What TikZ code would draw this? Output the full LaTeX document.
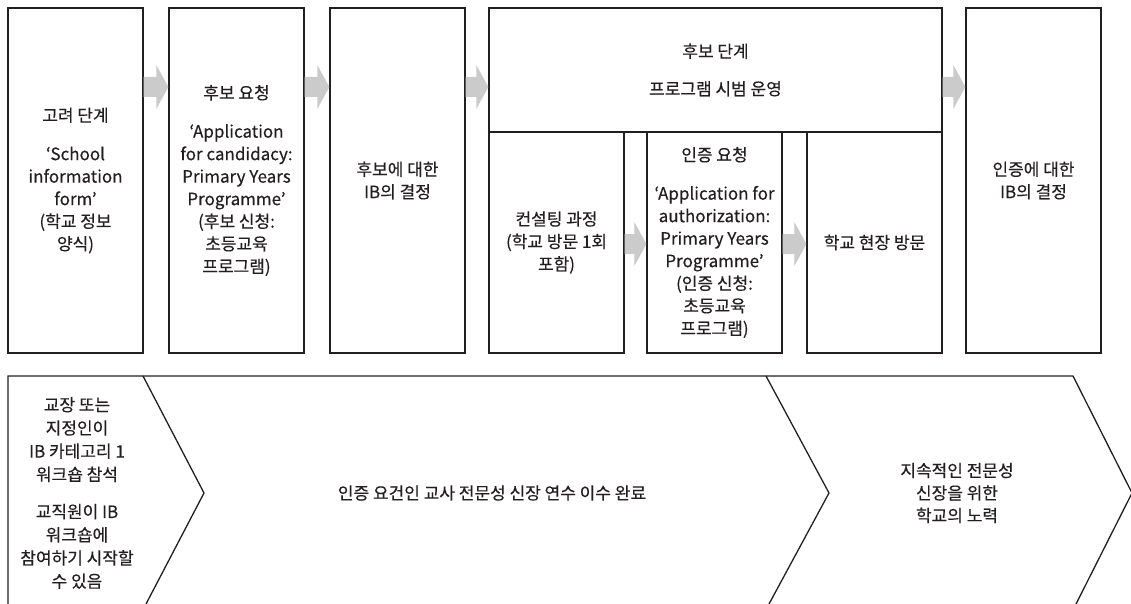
\documentclass[tikz,border=0pt]{standalone}
\usepackage{fontspec}
\setmainfont{Noto Sans CJK KR}[FakeBold=0.35]
\usetikzlibrary{calc}
\definecolor{ink}{HTML}{231F20}
\definecolor{arrowgray}{HTML}{CBCBCB}
\tikzset{
  stagebox/.style={draw=ink, line width=1.3pt, inner sep=0pt, minimum width=135pt,
    align=center, text=ink, font=\fontsize{17}{22.5}\selectfont},
  plaintext/.style={inner sep=0pt, align=center, text=ink, font=\fontsize{17}{22.5}\selectfont},
  chevline/.style={draw=ink, line width=1.3pt, line join=miter},
  blockarrow/.style={fill=arrowgray, draw=none}
}
\newcommand{\grayarrow}[3]{%
  \fill[blockarrow] ($(#1.east |- 0,#3)+(0,-10)$) -- ($(#2.west |- 0,#3)+(-12,-10)$)
    -- ($(#2.west |- 0,#3)+(-12,-22)$) -- (#2.west |- 0,#3)
    -- ($(#2.west |- 0,#3)+(-12,22)$) -- ($(#2.west |- 0,#3)+(-12,10)$)
    -- ($(#1.east |- 0,#3)+(0,10)$) -- cycle;}
\begin{document}
\begin{tikzpicture}[x=1pt, y=-1pt]
\useasboundingbox (0,0) rectangle (1131,604);
% top row
\node[stagebox, minimum height=345pt] (b1) at (75.5,180.5)
  {고려 단계\\[16pt]‘School\\information\\form’\\(학교 정보\\양식)};
\node[stagebox, minimum height=345pt] (b2) at (236.5,180.5)
  {후보 요청\\[16pt]‘Application\\for candidacy:\\Primary Years\\Programme’\\(후보 신청:\\초등교육\\프로그램)};
\node[stagebox, minimum height=345pt] (b3) at (397.5,180.5)
  {후보에 대한\\IB의 결정};
\node[stagebox, minimum width=453pt, minimum height=124pt] (big) at (715.5,70)
  {후보 단계\\[15pt]프로그램 시범 운영};
\node[stagebox, minimum height=221pt] (s1) at (556.5,242.5)
  {컨설팅 과정\\(학교 방문 1회\\포함)};
\node[stagebox, minimum height=221pt] (s2) at (714.5,242.5)
  {인증 요청\\[16pt]‘Application for\\authorization:\\Primary Years\\Programme’\\(인증 신청:\\초등교육\\프로그램)};
\node[stagebox, minimum height=221pt] (s3) at (874.5,242.5)
  {학교 현장 방문};
\node[stagebox, minimum height=345pt] (last) at (1033.5,180.5)
  {인증에 대한\\IB의 결정};
% block arrows
\grayarrow{b1}{b2}{87}
\grayarrow{b2}{b3}{87}
\grayarrow{b3}{big}{87}
\grayarrow{big}{last}{87}
\grayarrow{s1}{s2}{244}
\grayarrow{s2}{s3}{244}
% bottom chevron band
\draw[chevline] (8,610) -- (8,376) -- (1073,376) -- (1132,493) -- (1076,604);
\draw[chevline] (143,376) -- (204,493) -- (146,604);
\draw[chevline] (766,376) -- (829,493) -- (769,604);
\node[plaintext, font=\fontsize{17}{23.2}\selectfont] (t1) at (77,493)
  {교장 또는\\지정인이\\IB 카테고리 1\\워크숍 참석\\[14pt]교직원이 IB\\워크숍에\\참여하기 시작할\\수 있음};
\node[plaintext] (t2) at (492,493) {인증 요건인 교사 전문성 신장 연수 이수 완료};
\node[plaintext] (t3) at (957,493) {지속적인 전문성\\신장을 위한\\학교의 노력};
\end{tikzpicture}
\end{document}
